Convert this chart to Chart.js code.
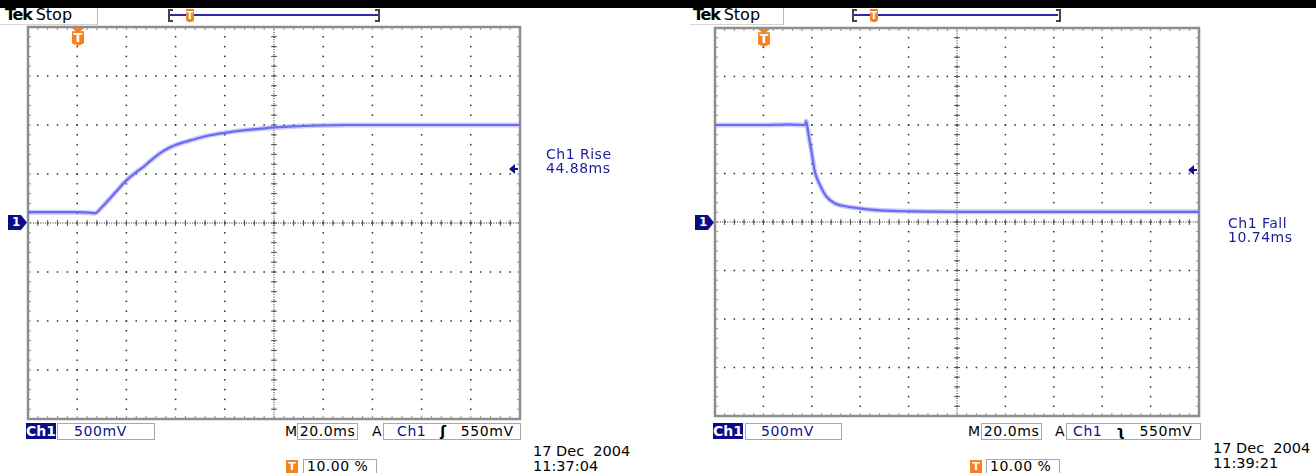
<!DOCTYPE html>
<html>
<head>
<meta charset="utf-8">
<script src="https://cdn.jsdelivr.net/npm/chart.js@4.4.1/dist/chart.umd.min.js"></script>
<style>
  body { margin: 0; width: 1316px; height: 473px; background: #fff; position: relative; overflow: hidden;
         font-family: "DejaVu Sans", Verdana, sans-serif; }
  .abs { position: absolute; white-space: pre; }
  .band { left: 0; top: 0; width: 1316px; height: 8px; background: #000; }
  .tek { font-size: 16px; line-height: 16px; color: #000; }
  .tek b { letter-spacing: -1.2px; margin-right: 4px; }
  .sep { width: 1px; height: 17px; top: 8px; background: #bbb; }
  .hline { height: 1px; top: 24px; background: #d4d4d4; }
  .brk { top: 9px; height: 9px; width: 3px; border: 2px solid #444; }
  .brk.l { border-right: none; }
  .brk.r { border-left: none; }
  .barline { top: 14px; height: 2px; background: #2a2aa8; }
  .tmark { width: 8px; height: 13px; background: #f5821f; color: #fff; font: bold 10px/13px "DejaVu Sans", sans-serif;
           text-align: center; border-radius: 0 0 3px 3px; }
  .tbig { width: 12px; height: 18px; background: #f5821f; color: #fff; font: bold 13px/19px "DejaVu Sans", sans-serif;
          text-align: center; clip-path: polygon(0 0, 100% 0, 70% 18%, 100% 18%, 100% 85%, 50% 100%, 0 85%, 0 18%, 30% 18%); }
  .tsq { width: 12px; height: 13px; background: #f5821f; color: #fff; font: bold 11px/13px "DejaVu Sans", sans-serif; text-align: center; }
  .gnd { width: 19px; height: 15px; background: #0c0c86; color: #fff; font: bold 12px/15px "DejaVu Sans", sans-serif;
         text-indent: 4px; clip-path: polygon(0 0, 68% 0, 100% 50%, 68% 100%, 0 100%); }
  .lvl { width: 0; height: 0; border-top: 5px solid transparent; border-bottom: 5px solid transparent; border-right: 6px solid #10108c; }
  .lvlstem { width: 4px; height: 2px; background: #10108c; }
  .meas { font-size: 14px; line-height: 14px; color: #1c1c98; letter-spacing: 0.5px; }
  .ch { top: 423px; height: 16px; width: 30px; background: #0a0a8a; color: #fff; font: bold 14px/16px "DejaVu Sans", sans-serif; text-align: center; }
  .box { top: 423px; height: 15px; border: 1px solid #a8a8a8; font-size: 14px; line-height: 15px; letter-spacing: 0.6px; color: #000; }
  .navy { color: #10108c; }
  .lbl { top: 424px; font-size: 14px; line-height: 15px; color: #000; }
  .pct { top: 459px; height: 13px; border: 1px solid #a8a8a8; font-size: 14px; line-height: 13px; letter-spacing: 0.5px; color: #000; }
  .date { font-size: 14.5px; line-height: 15px; color: #000; }
  .plot { position: absolute; }
</style>
</head>
<body>
<div class="abs band"></div>

<!-- left scope -->
<div class="abs tek" style="left:5px;top:7px"><b>Tek</b>Stop</div>
<div class="abs sep" style="left:97px"></div>
<div class="abs hline" style="left:0;width:97px"></div>
<div class="abs brk l" style="left:168px"></div>
<div class="abs barline" style="left:170px;width:208px"></div>
<div class="abs brk r" style="left:375px"></div>
<div class="abs tmark" style="left:186px;top:9px">T</div>

<div class="plot" style="left:24px;top:23px;width:500px;height:400px"><canvas id="riseChart" width="500" height="400"></canvas></div>
<div class="abs tbig" style="left:72px;top:28px">T</div>
<div class="abs gnd" style="left:8px;top:215px">1</div>
<div class="abs lvl" style="left:509px;top:164px"></div>
<div class="abs lvlstem" style="left:514px;top:168px"></div>
<div class="abs meas" style="left:546px;top:147px">Ch1 Rise
44.88ms</div>

<div class="abs ch" style="left:26px">Ch1</div>
<div class="abs box navy" style="left:57px;width:96px"><span style="margin-left:16px">500mV</span></div>
<div class="abs lbl" style="left:285px">M</div>
<div class="abs box" style="left:297px;width:59px;text-align:center">20.0ms</div>
<div class="abs lbl" style="left:372px">A</div>
<div class="abs box" style="left:383px;width:136px"><span class="navy" style="margin-left:13px">Ch1</span><span style="margin-left:14px;font-weight:bold">ʃ</span><span style="margin-left:14px">550mV</span></div>
<div class="abs tsq" style="left:286px;top:460px">T</div>
<div class="abs pct" style="left:303px;width:72px"><span style="margin-left:3px">10.00 %</span></div>
<div class="abs date" style="left:533px;top:444px">17 Dec  2004
11:37:04</div>

<!-- right scope -->
<div class="abs tek" style="left:693px;top:7px"><b>Tek</b>Stop</div>
<div class="abs sep" style="left:783px"></div>
<div class="abs hline" style="left:690px;width:93px"></div>
<div class="abs brk l" style="left:852px"></div>
<div class="abs barline" style="left:854px;width:204px"></div>
<div class="abs brk r" style="left:1056px"></div>
<div class="abs tmark" style="left:870px;top:9px">T</div>

<div class="plot" style="left:711px;top:24px;width:492px;height:396px"><canvas id="fallChart" width="492" height="396"></canvas></div>
<div class="abs tbig" style="left:758px;top:29px">T</div>
<div class="abs gnd" style="left:695px;top:215px">1</div>
<div class="abs lvl" style="left:1188px;top:165px"></div>
<div class="abs lvlstem" style="left:1193px;top:169px"></div>
<div class="abs meas" style="left:1228px;top:216px">Ch1 Fall
10.74ms</div>

<div class="abs ch" style="left:713px">Ch1</div>
<div class="abs box navy" style="left:745px;width:95px"><span style="margin-left:15px">500mV</span></div>
<div class="abs lbl" style="left:968px">M</div>
<div class="abs box" style="left:981px;width:59px;text-align:center">20.0ms</div>
<div class="abs lbl" style="left:1055px">A</div>
<div class="abs box" style="left:1066px;width:133px"><span class="navy" style="margin-left:6px">Ch1</span><span style="margin-left:14px;font-weight:bold">ʅ</span><span style="margin-left:14px">550mV</span></div>
<div class="abs tsq" style="left:970px;top:460px">T</div>
<div class="abs pct" style="left:986px;width:72px"><span style="margin-left:3px">10.00 %</span></div>
<div class="abs date" style="left:1213px;top:441px">17 Dec  2004
11:39:21</div>

<script>
// time in ms (trigger at 0), voltage in V (500 mV/div)
const riseTimeMs = [-20, 0, 5, 7.2, 10, 13.3, 16.5, 20, 23.5, 26.8, 30, 33.6, 36.8, 40, 47, 54, 60, 67.5, 74, 80, 88, 97.5, 110, 130, 150, 180]
const riseVolts = [0.11, 0.11, 0.105, 0.1, 0.16, 0.25, 0.34, 0.435, 0.51, 0.57, 0.64, 0.71, 0.76, 0.795, 0.85, 0.895, 0.92, 0.945, 0.96, 0.975, 0.985, 0.995, 1.0, 1.0, 1.0, 1.0]

const fallTimeMs = [-20, 0, 10, 17.3, 17.6, 18.6, 20, 21.3, 23.4, 26.1, 29.6, 34.4, 39.9, 48, 61.7, 90, 130, 180]
const fallVolts = [1.0, 1.0, 1.005, 1.0, 1.04, 0.91, 0.705, 0.515, 0.38, 0.26, 0.19, 0.16, 0.14, 0.12, 0.11, 0.105, 0.105, 0.105]

// graticule: 20 ms/div x 10, 500 mV/div x 8
const timeDivs = [-20, 0, 20, 40, 60, 80, 100, 120, 140, 160, 180]
const voltDivs = [-2, -1.5, -1, -0.5, 0, 0.5, 1, 1.5, 2]

const graticule = {
    id: 'graticule',
    beforeDatasetsDraw(chart) {
        const { ctx, chartArea: a, scales: { x, y } } = chart
        const tStep = (timeDivs[1] - timeDivs[0]) / 5
        const vStep = (voltDivs[1] - voltDivs[0]) / 5
        const xs = [], ys = []
        for (let t = timeDivs[0]; t <= timeDivs[timeDivs.length - 1] + 1e-6; t += tStep) xs.push(x.getPixelForValue(t))
        for (let v = voltDivs[0]; v <= voltDivs[voltDivs.length - 1] + 1e-6; v += vStep) ys.push(y.getPixelForValue(v))
        const cx = x.getPixelForValue(timeDivs[5])
        const cy = y.getPixelForValue(voltDivs[4])

        ctx.save()
        ctx.fillStyle = '#2a2a2a'
        timeDivs.slice(1, -1).forEach(t => {
            const px = x.getPixelForValue(t)
            ys.forEach(py => ctx.fillRect(px - 0.75, py - 0.75, 1.5, 1.5))
        })
        voltDivs.slice(1, -1).forEach(v => {
            const py = y.getPixelForValue(v)
            xs.forEach(px => ctx.fillRect(px - 0.75, py - 0.75, 1.5, 1.5))
        })
        // centre cross, finer dots and small ticks
        for (let py = a.top; py < a.bottom; py += 2.45) ctx.fillRect(cx - 0.5, py, 1, 1)
        for (let px = a.left; px < a.right; px += 2.45) ctx.fillRect(px, cy - 0.5, 1, 1)
        ctx.strokeStyle = '#555'
        ctx.lineWidth = 1
        ctx.beginPath()
        ys.forEach(py => { ctx.moveTo(cx - 3, py); ctx.lineTo(cx + 3, py) })
        xs.forEach(px => { ctx.moveTo(px, cy - 3); ctx.lineTo(px, cy + 3) })
        ctx.stroke()

        // frame with inner ticks
        ctx.strokeStyle = '#8e8e8e'
        ctx.beginPath()
        xs.forEach(px => {
            ctx.moveTo(px, a.top); ctx.lineTo(px, a.top + 3)
            ctx.moveTo(px, a.bottom); ctx.lineTo(px, a.bottom - 3)
        })
        ys.forEach(py => {
            ctx.moveTo(a.left, py); ctx.lineTo(a.left + 3, py)
            ctx.moveTo(a.right, py); ctx.lineTo(a.right - 3, py)
        })
        ctx.stroke()
        ctx.lineWidth = 2.5
        ctx.strokeRect(a.left, a.top, a.width, a.height)
        ctx.restore()
    }
}

const toPoints = (ts, vs) => ts.map((t, i) => ({ x: t, y: vs[i] }))

const configurarScope = (ts, vs) => ({
    type: 'line',
    data: {
        datasets: [
            { data: toPoints(ts, vs), borderColor: '#6a6af2', borderWidth: 2.2, pointRadius: 0,
              cubicInterpolationMode: 'monotone', order: 1 },
            { data: toPoints(ts, vs), borderColor: 'rgba(140,140,255,0.45)', borderWidth: 5, pointRadius: 0,
              cubicInterpolationMode: 'monotone', order: 2 }
        ]
    },
    options: {
        responsive: false,
        animation: false,
        layout: { padding: 4 },
        plugins: { legend: { display: false }, tooltip: { enabled: false } },
        scales: {
            x: { type: 'linear', display: false, min: timeDivs[0], max: timeDivs[timeDivs.length - 1] },
            y: { type: 'linear', display: false, min: voltDivs[0], max: voltDivs[voltDivs.length - 1] }
        }
    },
    plugins: [graticule]
})

new Chart(document.querySelector('#riseChart'), configurarScope(riseTimeMs, riseVolts))
new Chart(document.querySelector('#fallChart'), configurarScope(fallTimeMs, fallVolts))
</script>
</body>
</html>
